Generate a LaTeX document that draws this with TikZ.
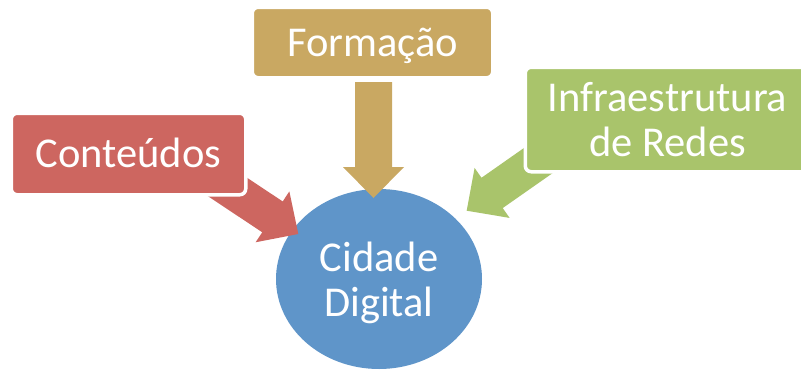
\documentclass[tikz,border=0pt]{standalone}
\usepackage{fontspec}
\setmainfont{Carlito}
\usetikzlibrary{calc,shapes.geometric}
\definecolor{cred}{RGB}{205,102,96}
\definecolor{cgold}{RGB}{201,168,98}
\definecolor{cgreen}{RGB}{169,196,107}
\definecolor{cblue}{RGB}{95,149,201}
\newcommand\myblockarrow[3]{%
  \path ($(#1)!31pt!(#2)$) coordinate (ba-h);
  \fill[#3] (#1) -- ($(ba-h)!30.5pt!90:(#1)$) -- ($(ba-h)!18.5pt!90:(#1)$)
    -- ($(#2)!18.5pt!90:(#1)$) -- ($(#2)!18.5pt!-90:(#1)$)
    -- ($(ba-h)!18.5pt!-90:(#1)$) -- ($(ba-h)!30.5pt!-90:(#1)$) -- cycle;}
\begin{document}
\begin{tikzpicture}[x=1pt,y=-1pt,
  lbl/.style={text=white, font=\fontsize{42.5}{45}\selectfont, align=center, inner sep=0pt, text depth=0pt},
  box/.style={lbl, draw=white, line width=3.5pt, rounded corners=6pt},
  oneline/.style={text height=27pt}]
\clip (0,0) rectangle (801,370);
\fill[white] (0,0) rectangle (801,370);
\node[lbl, ellipse, fill=cblue, minimum width=206pt, minimum height=180pt] (city) at (379,279) {Cidade\\Digital};
\coordinate (tipC) at (298.3,234);
\coordinate (backC) at (198.3,167.6);
\coordinate (tipF) at (373.5,198);
\coordinate (backF) at (373.5,82);
\coordinate (tipI) at (466.7,210.7);
\coordinate (backI) at (556.8,147.6);
\myblockarrow{tipC}{backC}{cred}
\myblockarrow{tipF}{backF}{cgold}
\myblockarrow{tipI}{backI}{cgreen}
\node[box, oneline, fill=cred, minimum width=234.5pt, minimum height=81.5pt] (cont) at (128.5,154) {Conteúdos};
\node[box, oneline, fill=cgold, minimum width=240.5pt, minimum height=70.5pt] (form) at (372.5,42.5) {Formação};
\node[box, fill=cgreen, minimum width=284.5pt, minimum height=104.5pt] (infra) at (667.5,119.5) {Infraestrutura\\de Redes};
\end{tikzpicture}
\end{document}
